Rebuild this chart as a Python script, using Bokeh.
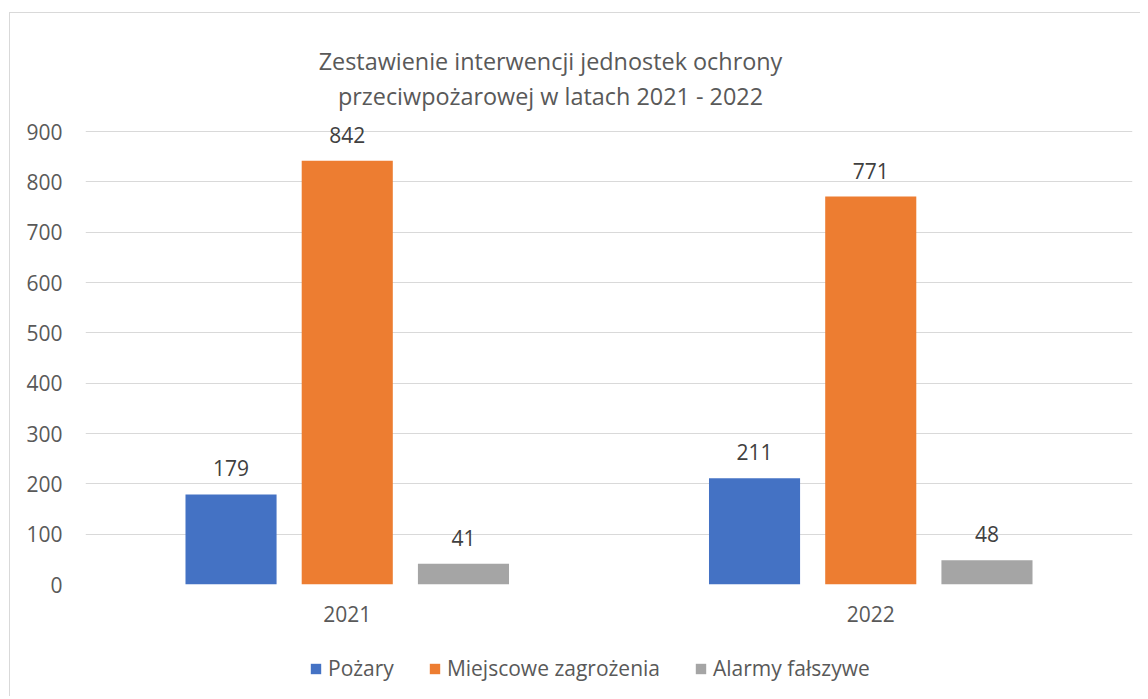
from bokeh.plotting import figure
from bokeh.layouts import column
from bokeh.models import (ColumnDataSource, FactorRange, Range1d, FixedTicker,
                          Label, Legend, LegendItem)
from bokeh.transform import dodge
from bokeh.core.properties import value
from bokeh.embed import file_html
from bokeh.resources import INLINE

years = ["2021", "2022"]
series_names = ["Pożary", "Miejscowe zagrożenia", "Alarmy fałszywe"]
pozary = [179, 211]
miejscowe = [842, 771]
alarmy = [41, 48]
y_ticks = [0, 100, 200, 300, 400, 500, 600, 700, 800, 900]
title_lines = ["Zestawienie interwencji jednostek ochrony",
               "przeciwpożarowej w latach 2021 - 2022"]

colors = ["#4472C4", "#ED7D31", "#A5A5A5"]
offsets = [-0.222, 0.0, 0.222]
bar_w = 0.174
FONT = "Open Sans"
TXT = "#595959"
FS = "21px"
W = 1130
BL, BR = 75, 8          # frame borders shared by all strips
FW = W - BL - BR        # frame width

# ---------- title strip ----------
TH = 101
ft = figure(width=W, height=TH, x_range=Range1d(0, FW), y_range=Range1d(0, TH),
            output_backend="svg", toolbar_location=None,
            x_axis_location=None, y_axis_location=None,
            min_border_left=BL, min_border_right=BR,
            min_border_top=0, min_border_bottom=0)
ft.grid.visible = False
ft.outline_line_color = None
ft.add_layout(Label(x=465, y=54, text=title_lines[0], text_align="center",
                    text_baseline="middle", text_font=FONT, text_font_size="23.4px",
                    text_color=TXT))
ft.add_layout(Label(x=465, y=18.5, text=title_lines[1], text_align="center",
                    text_baseline="middle", text_font=FONT, text_font_size="23.4px",
                    text_color=TXT))

# ---------- main chart ----------
src = ColumnDataSource(dict(
    year=years, s0=pozary, s1=miejscowe, s2=alarmy,
    l0=[str(v) for v in pozary], l1=[str(v) for v in miejscowe], l2=[str(v) for v in alarmy],
))

p = figure(x_range=FactorRange(*years, range_padding=0), y_range=Range1d(0, 934),
           width=W, height=526, output_backend="svg", toolbar_location=None,
           min_border_left=BL, min_border_top=0, min_border_right=BR, min_border_bottom=56)
p.outline_line_color = None

for i, (name, col, off) in enumerate(zip(series_names, colors, offsets)):
    p.vbar(x=dodge("year", off, range=p.x_range), top="s%d" % i, width=bar_w, source=src,
           fill_color=col, line_color=None)
    p.text(x=dodge("year", off, range=p.x_range), y="s%d" % i, text="l%d" % i, source=src,
           text_align="center", text_baseline="middle", y_offset=-26,
           text_font=value(FONT), text_font_size=FS, text_color="#404040")

p.xgrid.grid_line_color = None
p.ygrid.grid_line_color = "#D9D9D9"
p.ygrid.grid_line_width = 1
p.yaxis.ticker = FixedTicker(ticks=y_ticks)

for ax in (p.xaxis, p.yaxis):
    ax.axis_line_color = None
    ax.major_tick_line_color = None
    ax.minor_tick_line_color = None
    ax.major_tick_in = 0
    ax.major_tick_out = 0
    ax.major_label_text_font = FONT
    ax.major_label_text_font_size = FS
    ax.major_label_text_color = TXT
p.yaxis.major_label_standoff = 23
p.xaxis.major_label_standoff = 21

# ---------- legend strip ----------
fl = figure(width=W, height=56, x_range=Range1d(0, 1), y_range=Range1d(0, 1),
            output_backend="svg", toolbar_location=None,
            x_axis_location=None, y_axis_location=None,
            min_border_left=BL, min_border_right=BR,
            min_border_top=0, min_border_bottom=0)
fl.grid.visible = False
fl.outline_line_color = None
items = []
for name, col in zip(series_names, colors):
    r = fl.vbar(x=[0.5], top=[0], width=0, fill_color=col, line_color=None)
    items.append(LegendItem(label=name, renderers=[r]))
leg = Legend(items=items, orientation="horizontal", location=(224, 14),
             glyph_width=13, glyph_height=13, label_standoff=6, spacing=34,
             label_text_font=FONT, label_text_font_size=FS, label_text_color=TXT,
             border_line_color=None, background_fill_alpha=0, margin=0, padding=5)
fl.add_layout(leg)

layout = column(ft, p, fl, spacing=0, margin=(12, 0, 0, 9),
                styles={"border-top": "1px solid #D9D9D9", "border-left": "1px solid #D9D9D9"})

open("out.html", "w").write(file_html(layout, INLINE))
